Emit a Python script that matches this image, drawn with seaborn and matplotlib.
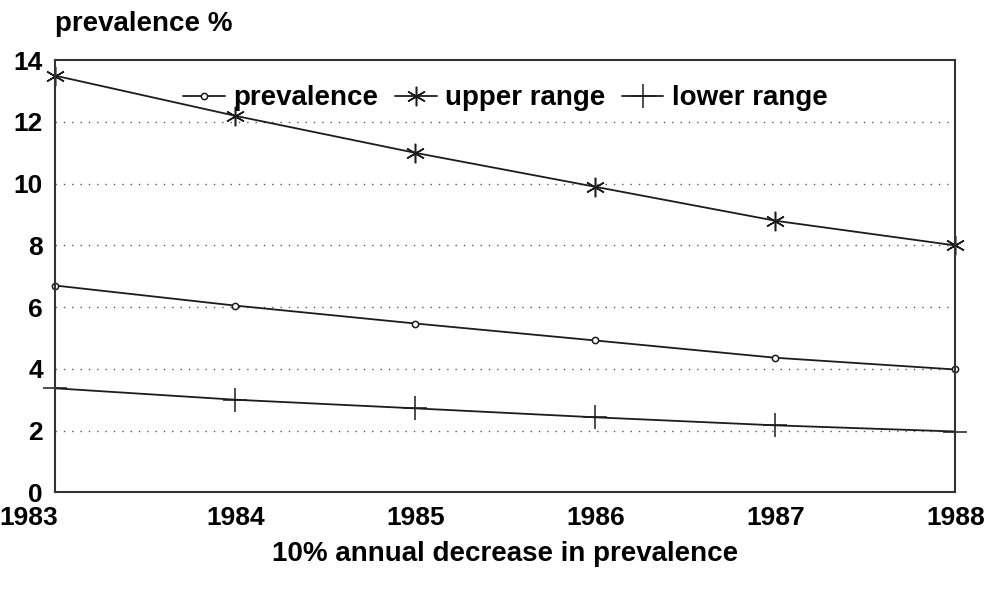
import pandas as pd
import numpy as np
import seaborn as sns
import matplotlib.pyplot as plt
from matplotlib.transforms import ScaledTranslation

sns.set_style('white')
plt.rcParams['font.family'] = ['Liberation Sans', 'DejaVu Sans']
plt.rcParams['font.weight'] = 'bold'
plt.rcParams['text.color'] = 'black'
plt.rcParams['xtick.color'] = 'black'
plt.rcParams['ytick.color'] = 'black'
plt.rcParams['axes.labelcolor'] = 'black'

years = [1983, 1984, 1985, 1986, 1987, 1988]
prevalence = [6.7, 6.05, 5.47, 4.92, 4.36, 3.98]
upper_range = [13.5, 12.2, 11.0, 9.9, 8.8, 8.0]
lower_range = [3.37, 3.0, 2.72, 2.43, 2.17, 1.97]
y_ticks = [0, 2, 4, 6, 8, 10, 12, 14]

df = pd.DataFrame({"year": years, "prevalence": prevalence,
                   "upper range": upper_range, "lower range": lower_range})

fig = plt.figure(figsize=(9.89, 5.91), dpi=100)
ax = fig.add_axes([0.056, 0.167, 0.910, 0.731])

ink = "#1c1c1c"
sns.lineplot(data=df, x="year", y="prevalence", ax=ax, color=ink, lw=1.3,
             marker="o", markersize=4.5, markerfacecolor="white",
             markeredgecolor=ink, markeredgewidth=1.1, label="prevalence",
             clip_on=False)
sns.lineplot(data=df, x="year", y="upper range", ax=ax, color=ink, lw=1.3,
             marker=(6, 2, 0), markersize=14, markeredgecolor=ink,
             markeredgewidth=1.1, label="upper range", clip_on=False)
sns.lineplot(data=df, x="year", y="lower range", ax=ax, color=ink, lw=1.3,
             marker="+", markersize=17, markeredgecolor=ink,
             markeredgewidth=1.1, label="lower range", clip_on=False)

ax.set_xlim(1983, 1988)
ax.set_ylim(0, 14)
ax.set_yticks(y_ticks)
ax.set_xticks(years)
ax.tick_params(length=0, labelsize=19)
ax.tick_params(axis="x", pad=10)
ax.tick_params(axis="y", pad=9)
for t in ax.get_xticklabels() + ax.get_yticklabels():
    t.set_fontweight("bold")
first = ax.get_xticklabels()[0]
first.set_ha("right")
first.set_transform(first.get_transform() + ScaledTranslation(3 / 100, 0, fig.dpi_scale_trans))

for yv in y_ticks[1:-1]:
    ax.axhline(yv, color="#555555", lw=1.0, ls=(0, (1, 5)), zorder=0)

for s in ax.spines.values():
    s.set_color("#333333")
    s.set_linewidth(1.5)

ax.set_xlabel("10% annual decrease in prevalence", fontsize=20,
              fontweight="bold", labelpad=8)
ax.set_ylabel("prevalence %", fontsize=20, fontweight="bold",
              rotation=0, ha="left", va="center")
ax.yaxis.set_label_coords(0.0, 1.085)

leg = ax.legend(loc="upper center", bbox_to_anchor=(0.5, 1.0), ncol=3,
                frameon=False, handlelength=1.5,
                handletextpad=0.3, columnspacing=0.6,
                prop={"weight": "bold", "size": 20})

plt.savefig("out.png", dpi=100)
